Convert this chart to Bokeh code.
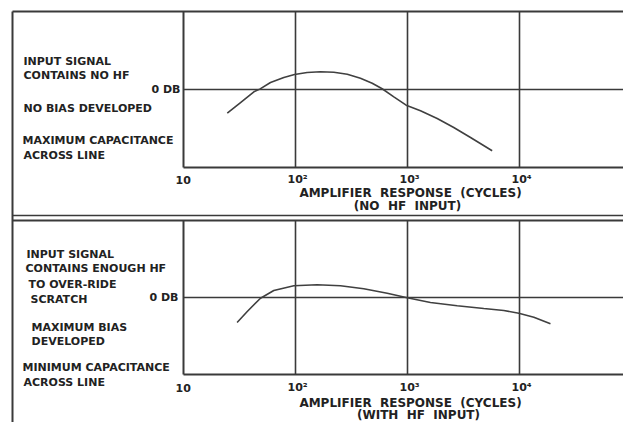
from bokeh.plotting import figure
from bokeh.models import Range1d, Label
from bokeh.embed import file_html
from bokeh.resources import INLINE

# ---------------- data ----------------
decade_ticks = [10, 100, 1000, 10000]
tick_labels = ["10", "10\u00b2", "10\u00b3", "10\u2074"]
grid_db = [0]

top_freq = [24.6, 32.3, 42.5, 48.0, 59.8, 78.7, 98, 127, 167, 220, 290, 380, 484, 594,
            755, 973, 1306, 1841, 2588, 3654, 5700]
top_db = [-3.04, -1.67, -0.29, 0.05, 0.90, 1.54, 1.92, 2.18, 2.27, 2.22, 1.96, 1.45, 0.81,
          0.1, -0.94, -2.01, -2.73, -3.72, -4.87, -6.15, -7.85]

bot_freq = [30.1, 37.1, 48.7, 64.0, 96.6, 156, 252, 407, 659, 994, 1603, 2778, 4800, 7244,
            9860, 13430, 18900]
bot_db = [-3.25, -1.82, -0.09, 0.91, 1.52, 1.65, 1.52, 1.13, 0.56, -0.04, -0.65, -1.08,
          -1.43, -1.69, -2.04, -2.56, -3.42]

db_min, db_max = -10, 10

top_left_text = ["INPUT SIGNAL", "CONTAINS NO HF", "NO BIAS DEVELOPED",
                 "MAXIMUM CAPACITANCE", "ACROSS LINE"]
bot_left_text = ["INPUT SIGNAL", "CONTAINS ENOUGH HF", "TO OVER-RIDE", "SCRATCH",
                 "MAXIMUM BIAS", "DEVELOPED", "MINIMUM CAPACITANCE", "ACROSS LINE"]
NB = "\u00a0"
title_main = "AMPLIFIER" + NB * 2 + "RESPONSE" + NB * 2 + "(CYCLES)"
top_sub = "(NO" + NB * 2 + "HF" + NB * 2 + "INPUT)"
bot_sub = "(WITH" + NB * 2 + "HF" + NB * 2 + "INPUT)"
zero_label = "0 DB"

# ---------------- layout helpers (page pixels -> data) ----------------
W, H = 623, 422
X10 = 183.0      # page x of 10 cycles
DEC = 112.0      # pixels per decade


def fx(px):
    return 10 ** (1 + (px - X10) / DEC)


def ty(py):      # top panel dB
    return (89.0 - py) / 7.8


def by(py):      # bottom panel dB
    return (297.0 - py) / 7.7


p = figure(width=W, height=H, x_axis_type="log",
           x_range=Range1d(fx(0), fx(W)),
           y_range=Range1d(ty(H), ty(0)),
           x_axis_location=None, y_axis_location=None,
           toolbar_location=None, output_backend="svg", min_border=0)
p.extra_y_ranges = {"bot": Range1d(by(H), by(0))}
p.grid.visible = False
p.outline_line_color = None
p.background_fill_color = "white"
p.border_fill_color = "white"

LC = "#3a3a3a"
xl, xr = fx(12), fx(W + 5)
xmin = decade_ticks[0]

for rng in (None, "bot"):
    kw = {} if rng is None else {"y_range_name": rng}
    # frame of the plot box
    p.segment(x0=[xmin], y0=[db_min], x1=[xmin], y1=[db_max], line_color=LC, line_width=2, **kw)
    p.segment(x0=[xmin], y0=[db_min], x1=[xr], y1=[db_min], line_color=LC, line_width=2, **kw)
    p.segment(x0=[xl], y0=[db_max], x1=[xr], y1=[db_max], line_color=LC, line_width=2, **kw)
    # vertical decade grid
    p.segment(x0=decade_ticks[1:], y0=[db_min] * 3, x1=decade_ticks[1:], y1=[db_max] * 3,
              line_color=LC, line_width=1.6, **kw)
    # 0 dB line
    p.segment(x0=[xmin], y0=grid_db, x1=[xr], y1=grid_db, line_color=LC, line_width=1.6, **kw)

# outer border on the left and separator between panels
p.segment(x0=[xl], y0=[ty(11)], x1=[xl], y1=[ty(H + 5)], line_color=LC, line_width=2)
p.segment(x0=[xl], y0=[ty(215)], x1=[xr], y1=[ty(215)], line_color=LC, line_width=1.6)

# curves
p.line(x=top_freq, y=top_db, line_color="#404040", line_width=1.6)
p.line(x=bot_freq, y=bot_db, line_color="#404040", line_width=1.6, y_range_name="bot")

FONT = dict(text_font="DejaVu Sans", text_font_style="bold",
            text_color="#222222", text_baseline="middle")


def lab(x, y, text, rng=None, align="left", xoff=0, size="11px"):
    kw = {} if rng is None else {"y_range_name": rng}
    p.add_layout(Label(x=x, y=y, text=text, text_align=align, x_offset=xoff,
                       text_font_size=size, **FONT, **kw))


# left texts, top panel
for (px, py), t in zip([(23, 61), (23, 75), (23, 108), (22, 140), (23, 155)], top_left_text):
    lab(fx(px), ty(py), t)
lab(fx(180), grid_db[0], zero_label, align="right")

# left texts, bottom panel
for (px, py), t in zip([(26, 254), (25, 268), (28, 284), (30, 299), (31, 327), (31, 341),
                        (22, 367), (23, 382)], bot_left_text):
    lab(fx(px), by(py), t, rng="bot")
lab(fx(178), grid_db[0], zero_label, rng="bot", align="right")

# tick labels
for f, t in zip(decade_ticks, tick_labels):
    lab(f, ty(179), t, align="left", xoff=-8)
    lab(f, by(387), t, rng="bot", align="left", xoff=-8)

# axis titles
lab(fx(410), ty(192), title_main, align="center", size="12px")
lab(fx(407), ty(205), top_sub, align="center", size="12px")
lab(fx(410), by(402), title_main, rng="bot", align="center", size="12px")
lab(fx(418), by(414), bot_sub, rng="bot", align="center", size="12px")

open("out.html", "w").write(file_html(p, INLINE))
